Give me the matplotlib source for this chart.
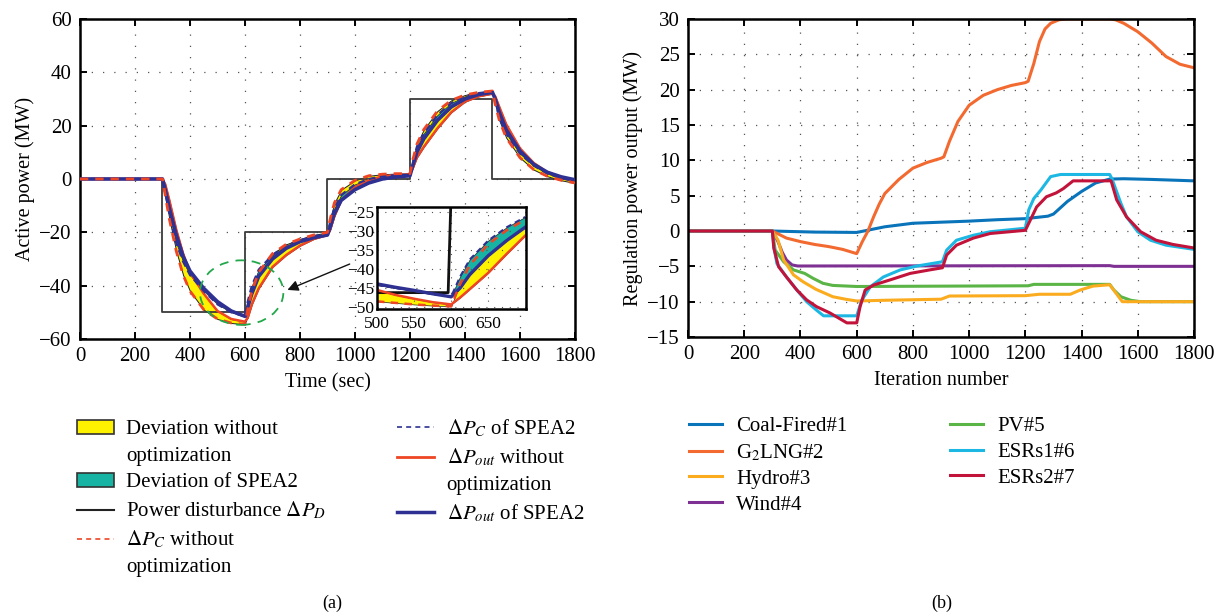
import matplotlib
matplotlib.use("Agg")
import matplotlib.pyplot as plt
from matplotlib.patches import Patch, Ellipse
from matplotlib.lines import Line2D

plt.rcParams['font.family'] = ['Liberation Serif', 'DejaVu Serif']
plt.rcParams['mathtext.fontset'] = 'stix'

# ---------------- (a) active power responses ----------------
t_a = [0, 300, 310, 325, 350, 375, 400, 450, 500, 550, 600,
       610, 625, 650, 700, 750, 800, 850, 900,
       910, 925, 950, 1000, 1050, 1100, 1150, 1200,
       1210, 1225, 1250, 1300, 1350, 1400, 1450, 1500,
       1510, 1525, 1550, 1600, 1650, 1700, 1750, 1800]
pc_wo = [0, 0, -6, -15, -27, -36, -42, -49, -52.5, -54, -54.5,
         -49, -42, -35, -28, -24.5, -22.5, -21, -20,
         -15, -9, -4, -0.5, 1.2, 1.8, 2.0, 2.0,
         7, 13, 18.5, 25.5, 29.5, 31.5, 32.5, 33,
         28, 22, 15.5, 8, 3.5, 1.0, -0.5, -1.5]
pout_wo = [0, 0, -2, -8, -19, -28, -35, -43, -49.5, -52.5, -53.5,
           -52, -47, -41, -33, -28.5, -25, -22.5, -21,
           -19, -14, -8, -3, -0.5, 1.0, 1.5, 1.8,
           4, 8, 12, 19, 25, 29, 31, 32,
           31, 27, 20.5, 11.5, 6, 2.5, 0.5, -1]
pc_sp = [0, 0, -5, -13, -24, -31, -36, -42, -47, -50, -51.5,
         -46, -40, -34, -28.5, -25, -23, -21.5, -20.5,
         -16, -11, -6, -2, 0, 1.0, 1.5, 1.6,
         6, 12, 17, 24, 28.5, 31, 32.2, 32.8,
         29, 23, 17, 9.5, 5, 2, 0.3, -0.8]
pout_sp = [0, 0, -4, -11, -21, -29, -34.5, -41, -46, -49.5, -51.5,
           -48, -43, -36.5, -30, -26, -23.5, -22, -21,
           -18, -13, -8, -4, -1.5, 0, 0.8, 1.2,
           5, 10, 15, 22, 27, 30, 31.7, 32.5,
           30, 25, 18.5, 10.5, 5.5, 2.5, 0.8, -0.3]

# step disturbance
t_pd = [0, 300, 600, 900, 1200, 1500, 1800]
p_d = [0, -50, -20, 0, 30, 0, 0]

# zoomed window 500-700 s
t_in = [500, 525, 550, 575, 600, 612, 625, 650, 675, 700]
in_pc_wo = [-48.5, -48.9, -49.3, -49.6, -49.8, -44, -39, -33.5, -29.8, -27]
in_pout_wo = [-45.5, -46.8, -47.8, -48.7, -49.3, -47.5, -45.3, -41, -36, -31.2]
in_pc_sp = [-44.2, -45, -45.8, -46.6, -47.2, -42, -37.5, -32.5, -29, -26.3]
in_pout_sp = [-43.9, -44.8, -45.6, -46.5, -47.3, -45, -41.5, -36.5, -32.5, -29]
in_t_pd = [500, 596, 600]
in_p_d = [-46.2, -46.2, -20]

# ---------------- (b) unit regulation outputs ----------------
t_coal = [0, 300, 450, 600, 700, 800, 900, 1000, 1100, 1200, 1280, 1300,
          1350, 1400, 1450, 1500, 1550, 1650, 1800]
p_coal = [0, 0, -0.15, -0.2, 0.6, 1.1, 1.25, 1.4, 1.6, 1.75, 2.1, 2.4,
          4.2, 5.6, 6.8, 7.35, 7.4, 7.3, 7.1]
t_lng = [0, 300, 350, 400, 450, 500, 550, 600, 620, 640, 660, 680, 700,
         750, 800, 850, 900, 910, 930, 960, 1000, 1050, 1100, 1150, 1200,
         1210, 1230, 1250, 1270, 1290, 1320, 1350, 1500, 1520, 1550, 1600,
         1650, 1700, 1750, 1800]
p_lng = [0, 0, -1.0, -1.5, -1.9, -2.2, -2.6, -3.2, -1.5, 0, 2.0, 3.8, 5.3,
         7.3, 8.9, 9.7, 10.3, 10.5, 12.7, 15.5, 17.8, 19.2, 20.0, 20.6, 21.0,
         21.2, 23.7, 26.8, 28.6, 29.4, 29.9, 30, 30, 29.9, 29.4, 28.2,
         26.6, 24.7, 23.6, 23.1]
t_hydro = [0, 300, 320, 340, 375, 410, 455, 515, 560, 600, 700, 900, 930,
           1200, 1250, 1360, 1395, 1440, 1500, 1515, 1545, 1800]
p_hydro = [0, 0, -1.3, -4.1, -6.2, -7.2, -8.25, -9.3, -9.65, -9.9, -9.8,
           -9.65, -9.2, -9.15, -8.95, -8.95, -8.35, -7.8, -7.6, -8.4, -10.0, -10.0]
t_wind = [0, 300, 320, 335, 350, 370, 390, 1500, 1515, 1800]
p_wind = [0, 0, -1.5, -3.0, -4.1, -4.8, -4.95, -4.9, -5.0, -5.0]
t_pv = [0, 300, 310, 340, 375, 415, 445, 480, 515, 600, 1210, 1230, 1500,
        1515, 1540, 1575, 1610, 1800]
p_pv = [0, 0, -2.7, -4.35, -5.5, -6.0, -6.7, -7.4, -7.7, -7.85, -7.75,
        -7.55, -7.55, -8.35, -9.3, -9.8, -10.0, -10.0]
t_esr1 = [0, 300, 305, 316, 350, 387, 422, 457, 482, 600, 618, 648, 695,
          755, 815, 905, 920, 955, 1015, 1075, 1200, 1212, 1230, 1255, 1290,
          1325, 1500, 1508, 1540, 1560, 1600, 1645, 1700, 1800]
p_esr1 = [0, 0, -2.2, -4.6, -6.5, -8.35, -10.0, -11.2, -12.0, -12.0, -9.8,
          -7.9, -6.5, -5.5, -4.95, -4.35, -2.7, -1.3, -0.6, -0.1, 0.4, 3.0,
          4.6, 5.8, 7.7, 8.0, 8.0, 7.4, 3.9, 2.0, -0.1, -1.3, -2.0, -2.6]
t_esr2 = [0, 300, 305, 322, 350, 387, 422, 457, 505, 565, 600, 612, 630,
          660, 720, 790, 860, 905, 920, 955, 1015, 1075, 1200, 1217, 1240,
          1275, 1310, 1335, 1370, 1505, 1525, 1560, 1610, 1665, 1725, 1800]
p_esr2 = [0, 0, -2.4, -5.05, -6.5, -8.35, -9.75, -10.7, -11.6, -13.0, -13.0,
          -10.7, -8.35, -7.65, -6.9, -6.0, -5.5, -5.2, -3.4, -2.0, -1.0, -0.35,
          0.1, 1.5, 3.4, 4.85, 5.4, 6.0, 7.1, 7.1, 4.4, 2.0, -0.1, -1.3, -1.9, -2.4]

unit_names = ['Coal-Fired#1', 'G$_2$LNG#2', 'Hydro#3', 'Wind#4',
              'PV#5', 'ESRs1#6', 'ESRs2#7']
unit_colors = ['#0a74bb', '#f26a30', '#fbab1e', '#7e3192',
               '#5bb446', '#1cb8e3', '#c2143b']

c_yellow = '#fff200'
c_teal = '#17b3a3'
c_red = '#ee4625'
c_blue = '#2e3192'

fig = plt.figure(figsize=(12.23, 6.16), dpi=100)


def style_axes(ax, size=15):
    ax.tick_params(direction='in', top=True, right=True, length=5, width=1.4,
                   labelsize=size, pad=6)
    for s in ax.spines.values():
        s.set_linewidth(1.8)
    ax.grid(True, color='#555555', linestyle=(0, (1, 8)), linewidth=0.9)


# ---- left panel ----
ax1 = fig.add_axes([0.0654, 0.4497, 0.4047, 0.5195])
ax1.fill_between(t_a, pc_wo, pout_wo, facecolor=c_yellow, edgecolor='#222222',
                 linewidth=0.7, zorder=2)
ax1.fill_between(t_a, pc_sp, pout_sp, facecolor=c_teal, edgecolor='#222222',
                 linewidth=0.5, zorder=2)
ax1.step(t_pd, p_d, where='post', color='#3a3a3a', linewidth=1.3, zorder=3)
ax1.plot(t_a, pout_wo, color=c_red, linewidth=1.8, zorder=4)
ax1.plot(t_a, pc_sp, color=c_blue, linewidth=1.6, linestyle=(0, (3, 2)), zorder=4)
ax1.plot(t_a, pout_sp, color=c_blue, linewidth=2.6, zorder=5)
ax1.plot(t_a, pc_wo, color=c_red, linewidth=2.0, linestyle=(0, (3, 2.5)), zorder=6)
ax1.add_patch(Ellipse((588, -42.6), 303, 24.2, fill=False, edgecolor='#22a84a',
                      linewidth=1.3, linestyle=(0, (5, 4)), zorder=7))
ax1.annotate('', xy=(745, -42), xytext=(990, -31.5),
             arrowprops=dict(arrowstyle='-|>', color='#111111', lw=1.0,
                             mutation_scale=16), zorder=8)
ax1.set_xlim(0, 1800)
ax1.set_ylim(-60, 60)
ax1.set_xticks(range(0, 1801, 200))
ax1.set_yticks(range(-60, 61, 20))
ax1.set_yticklabels(['\u221260', '\u221240', '\u221220', '0', '20', '40', '60'])
ax1.set_xlabel('Time (sec)', fontsize=14.5, labelpad=5)
ax1.set_ylabel('Active power (MW)', fontsize=14.5, labelpad=3)
style_axes(ax1)

# inset
axi = fig.add_axes([377 / 1223, 1 - 309 / 616, 149 / 1223, 102 / 616])
axi.fill_between(t_in, in_pc_wo, in_pout_wo, facecolor=c_yellow,
                 edgecolor='#222222', linewidth=0.5)
axi.fill_between(t_in, in_pc_sp, in_pout_sp, facecolor=c_teal,
                 edgecolor='#222222', linewidth=0.5)
axi.plot(in_t_pd, in_p_d, color='#111111', linewidth=2.0)
axi.plot(t_in, in_pout_wo, color=c_red, linewidth=1.8)
axi.plot(t_in, in_pout_sp, color=c_blue, linewidth=2.4)
axi.plot(t_in, in_pc_sp, color=c_blue, linewidth=1.4, linestyle=(0, (3, 2)))
axi.plot(t_in, in_pc_wo, color=c_red, linewidth=1.8, linestyle=(0, (3, 2.5)))
axi.set_xlim(500, 701)
axi.set_ylim(-50.5, -23.7)
axi.set_xticks([500, 550, 600, 650])
axi.set_yticks([-50, -45, -40, -35, -30, -25])
axi.set_yticklabels(['\u221250', '\u221245', '\u221240', '\u221235', '\u221230', '\u221225'])
axi.tick_params(length=0, labelsize=12.5)
axi.tick_params(axis='x', pad=5)
axi.tick_params(axis='y', pad=2)
for s in axi.spines.values():
    s.set_linewidth(1.8)
axi.grid(True, color='#555555', linestyle=(0, (1, 6)), linewidth=0.8)

# ---- right panel ----
ax2 = fig.add_axes([0.5626, 0.4529, 0.4137, 0.5162])
unit_t = [t_coal, t_lng, t_hydro, t_wind, t_pv, t_esr1, t_esr2]
unit_p = [p_coal, p_lng, p_hydro, p_wind, p_pv, p_esr1, p_esr2]
draw_order = [0, 1, 3, 4, 2, 5, 6]
for i in draw_order:
    ax2.plot(unit_t[i], unit_p[i], color=unit_colors[i], linewidth=2.2,
             label=unit_names[i])
ax2.set_xlim(0, 1800)
ax2.set_ylim(-15, 30)
ax2.set_xticks(range(0, 1801, 200))
ax2.set_yticks(range(-15, 31, 5))
ax2.set_yticklabels(['\u221215', '\u221210', '\u22125', '0', '5', '10', '15',
                     '20', '25', '30'])
ax2.set_xlabel('Iteration number', fontsize=14.5, labelpad=5)
ax2.set_ylabel('Regulation power output (MW)', fontsize=14.5, labelpad=3)
style_axes(ax2)

# ---- legends ----
blank = Line2D([], [], linestyle='none')
h_left = [Patch(facecolor=c_yellow, edgecolor='#333333', linewidth=1.2), blank,
          Patch(facecolor=c_teal, edgecolor='#333333', linewidth=1.2),
          Line2D([], [], color='#222222', linewidth=1.5),
          Line2D([], [], color=c_red, linewidth=1.2, linestyle=(0, (3, 2.5))),
          blank,
          Line2D([], [], color=c_blue, linewidth=1.2, linestyle=(0, (3, 2.5))),
          Line2D([], [], color=c_red, linewidth=2.0), blank,
          Line2D([], [], color=c_blue, linewidth=2.5), blank, blank]
l_left = ['Deviation without', 'optimization', 'Deviation of SPEA2',
          'Power disturbance $\\Delta P_D$', '$\\Delta P_C$ without',
          'optimization',
          '$\\Delta P_C$ of SPEA2', '$\\Delta P_{out}$ without', 'optimization',
          '$\\Delta P_{out}$ of SPEA2', '', '']
fig.legend(h_left, l_left, loc='upper left', bbox_to_anchor=(0.063, 0.322),
           ncol=2, frameon=False, fontsize=15, handlelength=1.75,
           handleheight=0.6, handletextpad=0.62, columnspacing=3.4,
           labelspacing=0.36, borderpad=0, borderaxespad=0)

leg_h = [Line2D([], [], color=c, linewidth=2.2) for c in unit_colors]
fig.legend(leg_h, unit_names, loc='upper left', bbox_to_anchor=(0.563, 0.324),
           ncol=2, frameon=False, fontsize=15, handlelength=1.6,
           handletextpad=0.7, columnspacing=4.9, labelspacing=0.3,
           borderpad=0, borderaxespad=0)

fig.text(332 / 1223, 1 - 603 / 616, '(a)', ha='center', va='center', fontsize=13)
fig.text(942 / 1223, 1 - 603 / 616, '(b)', ha='center', va='center', fontsize=13)

fig.savefig('out.png', dpi=100)
